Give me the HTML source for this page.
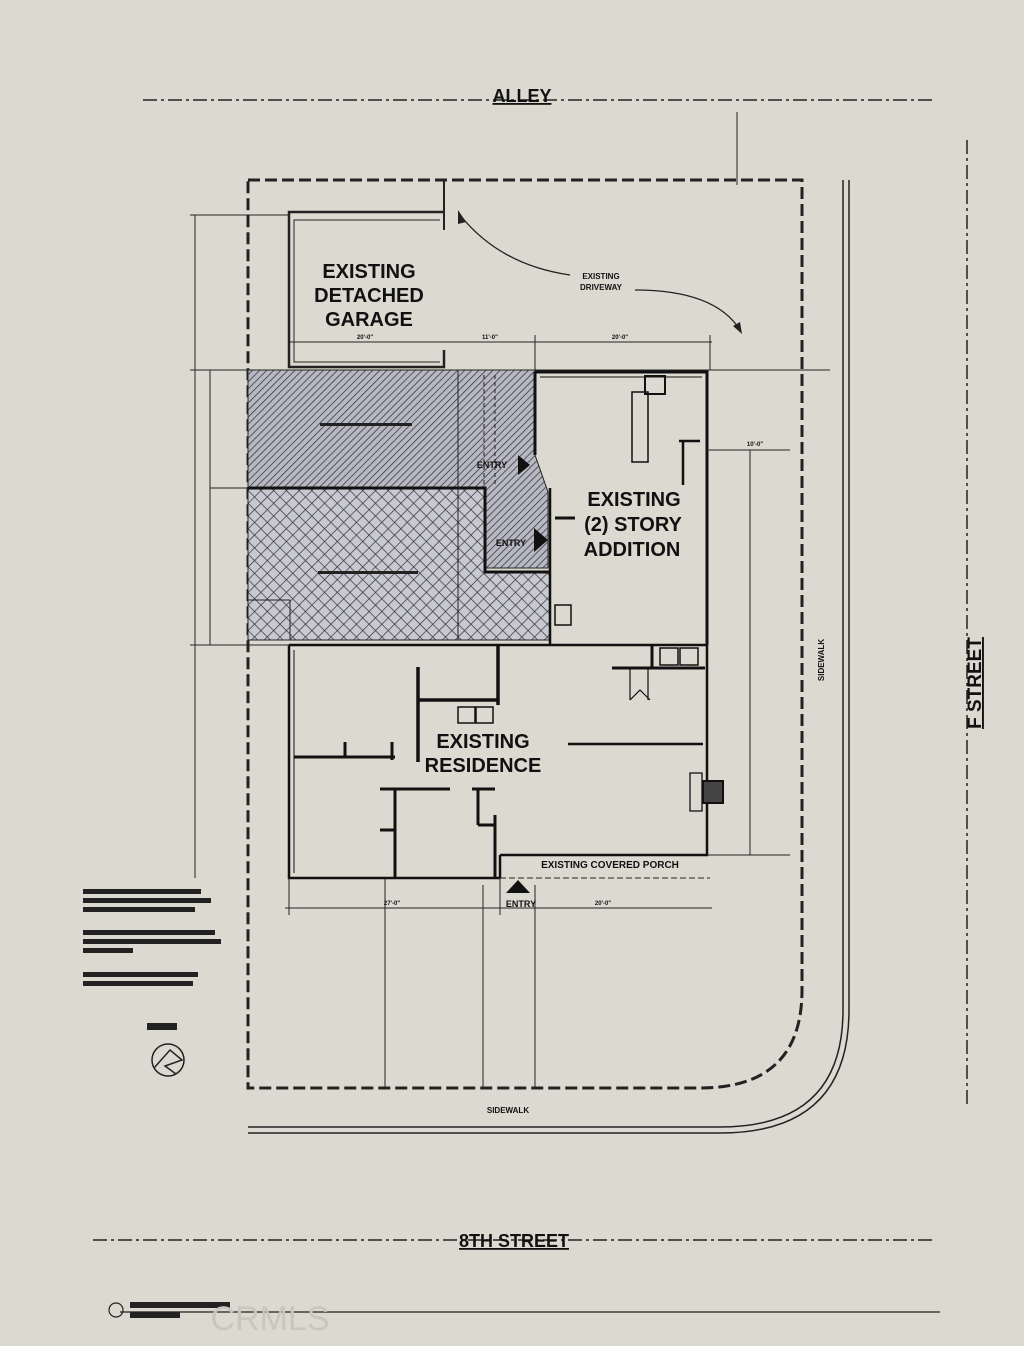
<!DOCTYPE html>
<html><head><meta charset="utf-8"><style>
html,body{margin:0;padding:0;background:#dcd9d0;}
svg{display:block;font-family:"Liberation Sans",Arial,sans-serif;}
</style></head><body>
<svg width="1024" height="1346" viewBox="0 0 1024 1346" xmlns="http://www.w3.org/2000/svg">
<defs>
<pattern id="diag" width="5" height="5" patternUnits="userSpaceOnUse" patternTransform="rotate(45)">
<rect width="5" height="5" fill="#b8b8c2"/><line x1="0" y1="0" x2="0" y2="5" stroke="#3a3a45" stroke-width="1.6"/></pattern>
<pattern id="cross" width="9" height="9" patternUnits="userSpaceOnUse" patternTransform="rotate(45)">
<rect width="9" height="9" fill="#c8c8d2"/><line x1="0" y1="0" x2="0" y2="9" stroke="#333" stroke-width="1.4"/><line x1="0" y1="0" x2="9" y2="0" stroke="#333" stroke-width="1.4"/></pattern>
</defs>
<rect width="1024" height="1346" fill="#dcd9d0"/>
<g stroke="#222" fill="none">
<line x1="143" y1="100" x2="935" y2="100" stroke-width="1.5" stroke-dasharray="14,4,3,4"/>
<line x1="93" y1="1240" x2="935" y2="1240" stroke-width="1.5" stroke-dasharray="14,4,3,4"/>
<line x1="120" y1="1312" x2="940" y2="1312" stroke-width="1.2"/>
<line x1="967" y1="140" x2="967" y2="1105" stroke-width="1.5" stroke-dasharray="14,4,3,4"/>
<path d="M843 180 V1010 Q843 1127 720 1127 H248" stroke-width="1.5"/>
<path d="M849 180 V1010 Q849 1133 720 1133 H248" stroke-width="1.5"/>
<path d="M248 180 H802 V990 Q802 1088 700 1088 H248 Z" stroke-width="3" stroke-dasharray="12,5"/>
<line x1="737" y1="112" x2="737" y2="185" stroke-width="1"/>
<path d="M444 212 H289 V367 H444 V350" stroke-width="2.5"/>
<path d="M440 220 H294 V362 H440" stroke-width="1"/>
<line x1="444" y1="180" x2="444" y2="230" stroke-width="2"/>
<path d="M460 215 Q500 265 570 275" stroke-width="1.3"/>
<path d="M635 290 Q715 290 740 330" stroke-width="1.3"/>
</g>
<polygon points="458,210 466,222 458,224" fill="#222"/>
<polygon points="742,334 733,326 740,322" fill="#222"/>
<path d="M248 370 H535 V455 L548 492 V568 H485 V488 H248 Z" fill="url(#diag)" stroke="#222" stroke-width="1"/>
<path d="M248 488 H485 V572 H550 V640 H248 Z" fill="url(#cross)" stroke="#222" stroke-width="1"/>
<path d="M248 488 H485 V572 H550" fill="none" stroke="#111" stroke-width="3"/>
<line x1="458" y1="370" x2="458" y2="640" stroke="#222" stroke-width="1"/>
<g stroke="#222" stroke-width="1" stroke-dasharray="4,3"><line x1="484" y1="375" x2="484" y2="485"/><line x1="495" y1="375" x2="495" y2="485"/></g>
<rect x="320" y="423" width="92" height="3" fill="#222"/>
<rect x="318" y="571" width="100" height="3" fill="#222"/>
<polygon points="518,455 530,465 518,475" fill="#111"/>
<polygon points="534,528 548,540 534,552" fill="#111"/>
<text x="492" y="468" font-size="9" font-weight="bold" text-anchor="middle" fill="#111">ENTRY</text>
<text x="511" y="546" font-size="9" font-weight="bold" text-anchor="middle" fill="#111">ENTRY</text>
<g stroke="#111" fill="none">
<path d="M535 372 H707 V645 M535 372 V455" stroke-width="3"/>
<path d="M540 377 H702" stroke-width="1"/>
<path d="M550 488 V645" stroke-width="2.5"/>
<rect x="632" y="392" width="16" height="70" stroke-width="1.5"/>
<rect x="645" y="376" width="20" height="18" stroke-width="2"/>
<path d="M679 441 H700 M683 441 V485" stroke-width="2.5"/>
<rect x="555" y="605" width="16" height="20" stroke-width="1.5"/>
<line x1="555" y1="518" x2="575" y2="518" stroke-width="3"/>
<path d="M289 645 V878 H500 M500 855 V878" stroke-width="2.5"/>
<path d="M294 650 V873" stroke-width="1"/>
<path d="M289 645 H550 M550 645 H707 V855 H500" stroke-width="2.5"/>
<path d="M498 645 V705 M418 700 H498 M418 667 V762" stroke-width="3.5"/>
<rect x="458" y="707" width="17" height="16" stroke-width="1.5"/>
<rect x="476" y="707" width="17" height="16" stroke-width="1.5"/>
<path d="M294 757 H395 M345 742 V757 M392 742 V760" stroke-width="3"/>
<path d="M380 789 H450 M395 789 V878 M380 830 H395 M472 789 H495 M478 789 V825 M478 825 H495 M495 815 V878" stroke-width="3"/>
<path d="M568 744 H703" stroke-width="2.5"/>
<path d="M612 668 H705 M652 645 V668" stroke-width="3"/>
<rect x="660" y="648" width="18" height="17" stroke-width="1.5"/>
<rect x="680" y="648" width="18" height="17" stroke-width="1.5"/>
<path d="M630 668 V700 M630 700 L640 690 L650 700 M648 668 V700" stroke-width="1.2"/>
<rect x="690" y="773" width="12" height="38" stroke-width="1.3"/>
<rect x="703" y="781" width="20" height="22" stroke-width="2" fill="#444"/>
</g>
<g stroke="#222" stroke-width="1" fill="none">
<line x1="190" y1="370" x2="830" y2="370"/>
<line x1="195" y1="215" x2="195" y2="878"/>
<line x1="210" y1="370" x2="210" y2="645"/>
<line x1="210" y1="488" x2="248" y2="488"/>
<line x1="190" y1="645" x2="289" y2="645"/>
<line x1="190" y1="215" x2="289" y2="215"/>
<line x1="289" y1="342" x2="712" y2="342"/>
<line x1="535" y1="335" x2="535" y2="370"/>
<line x1="710" y1="335" x2="710" y2="370"/>
<line x1="707" y1="450" x2="790" y2="450"/>
<line x1="750" y1="450" x2="750" y2="855"/>
<line x1="707" y1="855" x2="790" y2="855"/>
<line x1="285" y1="908" x2="712" y2="908"/>
<line x1="289" y1="878" x2="289" y2="915"/>
<line x1="500" y1="878" x2="500" y2="915"/>
<line x1="535" y1="885" x2="535" y2="1088"/>
<line x1="483" y1="885" x2="483" y2="1088"/>
<line x1="385" y1="878" x2="385" y2="1088"/>
<line x1="500" y1="878" x2="710" y2="878" stroke-dasharray="6,3"/>
<line x1="248" y1="600" x2="290" y2="600"/>
<line x1="290" y1="600" x2="290" y2="640"/>
</g>
<polygon points="506,893 518,880 530,893" fill="#111"/>
<g fill="#111" font-weight="bold" text-anchor="middle">
<text x="522" y="102" font-size="18" text-decoration="underline">ALLEY</text>
<text x="369" y="278" font-size="20">EXISTING</text>
<text x="369" y="302" font-size="20">DETACHED</text>
<text x="369" y="326" font-size="20">GARAGE</text>
<text x="634" y="506" font-size="20">EXISTING</text>
<text x="633" y="531" font-size="20">(2) STORY</text>
<text x="632" y="556" font-size="20">ADDITION</text>
<text x="483" y="748" font-size="20">EXISTING</text>
<text x="483" y="772" font-size="20">RESIDENCE</text>
<text x="610" y="868" font-size="10">EXISTING COVERED PORCH</text>
<text x="521" y="907" font-size="9">ENTRY</text>
<text x="601" y="279" font-size="8">EXISTING</text>
<text x="601" y="290" font-size="8">DRIVEWAY</text>
<text x="508" y="1113" font-size="8">SIDEWALK</text>
<text x="514" y="1247" font-size="18" text-decoration="underline">8TH STREET</text>
<text transform="translate(981,683) rotate(-90)" font-size="19" text-decoration="underline">F STREET</text>
<text transform="translate(824,660) rotate(-90)" font-size="8">SIDEWALK</text>
<text x="365" y="339" font-size="6">20'-0"</text>
<text x="490" y="339" font-size="6">11'-0"</text>
<text x="620" y="339" font-size="6">20'-0"</text>
<text x="392" y="905" font-size="6">27'-0"</text>
<text x="603" y="905" font-size="6">20'-0"</text>
<text x="755" y="446" font-size="6">10'-0"</text>
</g>
<g fill="#222">
<rect x="83" y="889" width="118" height="5"/><rect x="83" y="898" width="128" height="5"/><rect x="83" y="907" width="112" height="5"/>
<rect x="83" y="930" width="132" height="5"/><rect x="83" y="939" width="138" height="5"/><rect x="83" y="948" width="50" height="5"/>
<rect x="83" y="972" width="115" height="5"/><rect x="83" y="981" width="110" height="5"/>
<rect x="147" y="1023" width="30" height="7"/>
<rect x="130" y="1302" width="100" height="6"/><rect x="130" y="1312" width="50" height="6"/>
</g>
<circle cx="168" cy="1060" r="16" fill="none" stroke="#222" stroke-width="1.5"/>
<path d="M154 1068 L170 1050 L182 1060 L165 1066 L176 1074" fill="none" stroke="#222" stroke-width="1.5"/>
<circle cx="116" cy="1310" r="7" fill="none" stroke="#222" stroke-width="1.2"/>
<text x="270" y="1330" font-size="34" fill="#c9c6bd" text-anchor="middle" font-family="Liberation Sans,sans-serif">CRMLS</text>
</svg>
</body></html>
